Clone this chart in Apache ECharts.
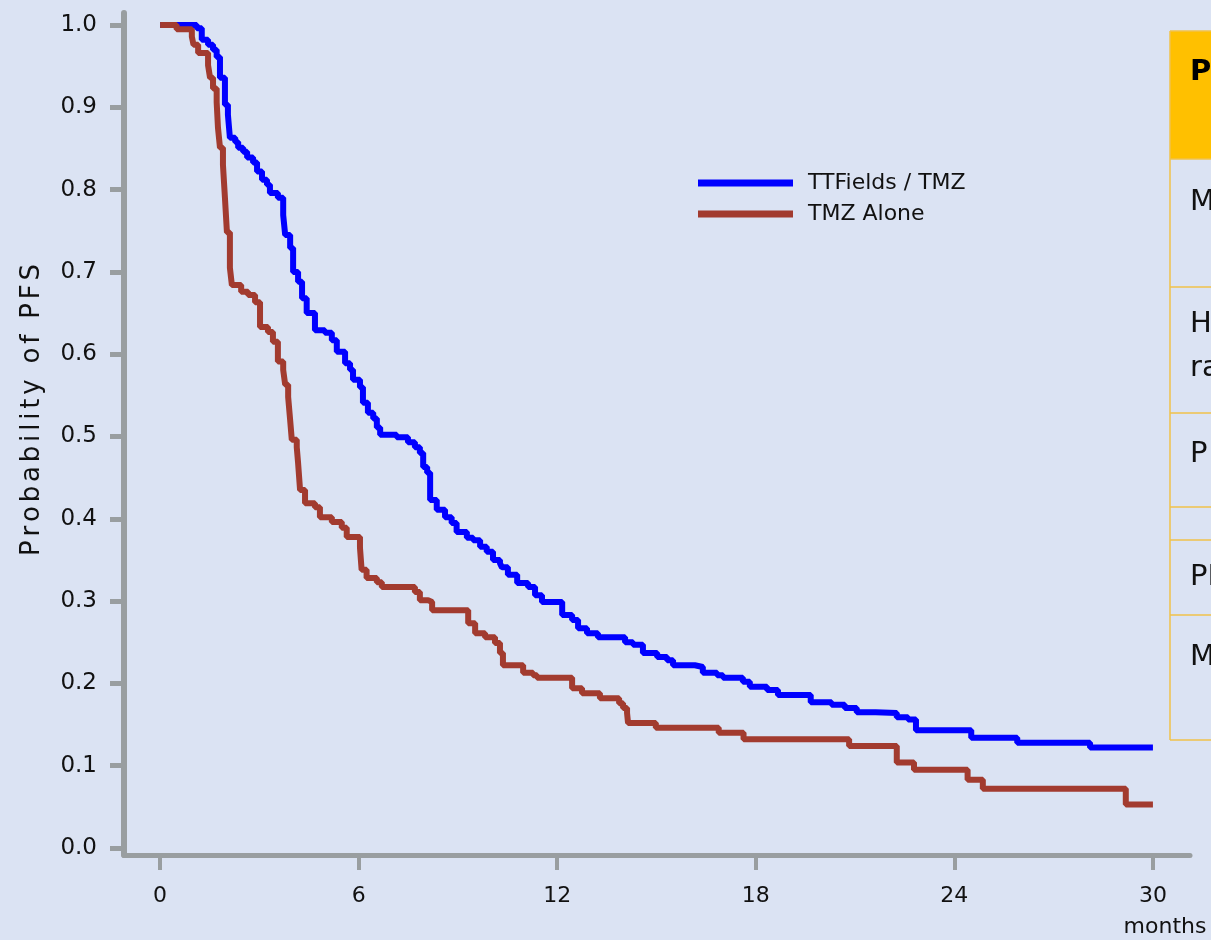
<!DOCTYPE html>
<html>
<head>
<meta charset="utf-8">
<script src="https://cdn.jsdelivr.net/npm/echarts@6/dist/echarts.min.js"></script>
<style>
html, body { margin: 0; padding: 0; background: #dbe3f3; }
#main { width: 1211px; height: 940px; }
</style>
</head>
<body>
<div id="main"></div>
<script>
// Kaplan-Meier PFS: [month, probability] after each drop
const seriesNames = ['TTFields / TMZ', 'TMZ Alone'];
const xTicks = [0, 6, 12, 18, 24, 30];
const yTicks = [0, 0.1, 0.2, 0.3, 0.4, 0.5, 0.6, 0.7, 0.8, 0.9, 1.0];

const ttfSteps = [
  [0, 1.0], [1.11, 0.996], [1.26, 0.982], [1.45, 0.976], [1.60, 0.970], [1.71, 0.961],
  [1.81, 0.936], [1.96, 0.903], [2.05, 0.891], [2.11, 0.863], [2.27, 0.858], [2.36, 0.851],
  [2.51, 0.846], [2.63, 0.839], [2.81, 0.833], [2.93, 0.822], [3.08, 0.812], [3.23, 0.806],
  [3.32, 0.796], [3.56, 0.790], [3.72, 0.769], [3.78, 0.745], [3.93, 0.729], [4.02, 0.700],
  [4.17, 0.688], [4.29, 0.668], [4.43, 0.650], [4.68, 0.629], [4.98, 0.626], [5.19, 0.617],
  [5.34, 0.603], [5.59, 0.589], [5.74, 0.581], [5.83, 0.569], [6.04, 0.560], [6.13, 0.541],
  [6.28, 0.529], [6.44, 0.522], [6.55, 0.511], [6.65, 0.502], [7.15, 0.499], [7.49, 0.493],
  [7.70, 0.487], [7.85, 0.480], [7.95, 0.463], [8.07, 0.456], [8.16, 0.423], [8.36, 0.411],
  [8.61, 0.402], [8.81, 0.395], [8.96, 0.384], [9.27, 0.377], [9.46, 0.374], [9.67, 0.366],
  [9.87, 0.360], [10.06, 0.350], [10.27, 0.346], [10.33, 0.341], [10.51, 0.332], [10.79, 0.322],
  [11.12, 0.317], [11.33, 0.307], [11.54, 0.299], [12.15, 0.283], [12.45, 0.277], [12.63, 0.267],
  [12.90, 0.261], [13.23, 0.256], [14.05, 0.250], [14.29, 0.247], [14.59, 0.237], [15.02, 0.232],
  [15.32, 0.228], [15.50, 0.222], [16.16, 0.220], [16.40, 0.213], [16.83, 0.210], [17.01, 0.207],
  [17.61, 0.202], [17.82, 0.196], [18.34, 0.192], [18.67, 0.186], [19.66, 0.177], [20.29, 0.174],
  [20.69, 0.170], [21.05, 0.165], [21.62, 0.164], [22.26, 0.159], [22.60, 0.156], [22.84, 0.143],
  [24.51, 0.134], [25.90, 0.128], [28.10, 0.122], [30.0, 0.122]
];

const tmzSteps = [
  [0, 1.0], [0.50, 0.995], [0.96, 0.986], [1.01, 0.976], [1.15, 0.966], [1.45, 0.951],
  [1.51, 0.936], [1.60, 0.923], [1.71, 0.906], [1.75, 0.875], [1.81, 0.851], [1.90, 0.830],
  [1.96, 0.790], [2.02, 0.748], [2.11, 0.705], [2.17, 0.684], [2.45, 0.676], [2.66, 0.672],
  [2.87, 0.663], [3.02, 0.633], [3.26, 0.627], [3.41, 0.615], [3.56, 0.591], [3.72, 0.581],
  [3.78, 0.563], [3.87, 0.548], [3.93, 0.520], [3.98, 0.496], [4.13, 0.487], [4.17, 0.468],
  [4.23, 0.435], [4.38, 0.419], [4.68, 0.414], [4.83, 0.402], [5.19, 0.396], [5.49, 0.389],
  [5.64, 0.378], [6.04, 0.365], [6.09, 0.338], [6.24, 0.328], [6.55, 0.323], [6.70, 0.317],
  [7.70, 0.311], [7.85, 0.301], [8.10, 0.299], [8.22, 0.289], [9.31, 0.273], [9.52, 0.261],
  [9.82, 0.256], [10.12, 0.249], [10.27, 0.237], [10.36, 0.222], [10.97, 0.213], [11.27, 0.210],
  [11.39, 0.207], [12.45, 0.194], [12.75, 0.188], [13.29, 0.182], [13.87, 0.176], [13.99, 0.170],
  [14.11, 0.164], [14.14, 0.152], [14.98, 0.146], [16.88, 0.140], [17.63, 0.132], [20.82, 0.124],
  [22.26, 0.104], [22.78, 0.095], [24.40, 0.083], [24.86, 0.072], [29.18, 0.053], [30.0, 0.053]
];

// right-hand table, cut off at the picture edge
const tableHeader = 'PFS';
const tableRows = ['Median PFS', 'Hazard\nratio', 'P value', '', 'PFS6', 'Median OS'];

const font = 'DejaVu Sans';
const axisGrey = '#999ea0';

const chart = echarts.init(document.getElementById('main'));

const rowEdges = [31, 159, 287, 413, 507, 540, 615, 740];
const rowTextY = [72, 202, 346, 454, 0, 577, 657];
const tableEls = [
  { type: 'rect', shape: { x: 1170, y: rowEdges[0], width: 60, height: rowEdges[1] - rowEdges[0] },
    style: { fill: '#ffc000' } },
  { type: 'line', shape: { x1: 1170, y1: rowEdges[0], x2: 1170, y2: rowEdges[rowEdges.length - 1] },
    style: { stroke: '#f1c24a', lineWidth: 1.5 } }
];
rowEdges.forEach(function (y) {
  tableEls.push({ type: 'line', shape: { x1: 1170, y1: y, x2: 1240, y2: y },
    style: { stroke: '#f1c24a', lineWidth: 1.5 } });
});
tableEls.push({ type: 'text', x: 1190, y: rowTextY[0],
  style: { text: tableHeader, font: 'bold 29px "DejaVu Sans"', fill: '#000', verticalAlign: 'middle' } });
tableRows.forEach(function (t, i) {
  if (!t) return;
  tableEls.push({ type: 'text', x: 1190, y: rowTextY[i + 1],
    style: { text: t, fontSize: 29, fontFamily: font, lineHeight: 44, fill: '#111', verticalAlign: 'middle' } });
});

const yName = 'Probability of PFS'.split('').map(function (c) { return '{c|' + c + '}'; }).join('');

const option = {
  backgroundColor: '#dbe3f3',
  animation: false,
  grid: { left: 124, right: 21, top: 13, bottom: 85 },
  legend: [
    { data: [seriesNames[0]], left: 698, top: 172, padding: 0, selectedMode: false,
      icon: 'rect', itemWidth: 95, itemHeight: 7,
      textStyle: { fontSize: 22, fontFamily: font, color: '#111', padding: [0, 0, 10, 10] } },
    { data: [seriesNames[1]], left: 698, top: 203, padding: 0, selectedMode: false,
      icon: 'rect', itemWidth: 95, itemHeight: 7,
      textStyle: { fontSize: 22, fontFamily: font, color: '#111', padding: [0, 0, 30, 10] } }
  ],
  xAxis: {
    type: 'value', min: -1.09, max: 31.12,
    splitLine: { show: false },
    axisLine: { onZero: false, lineStyle: { color: axisGrey, width: 5 } },
    axisTick: { customValues: xTicks, length: 15, lineStyle: { color: axisGrey, width: 4 } },
    axisLabel: { customValues: xTicks, margin: 30, fontSize: 22, fontFamily: font, color: '#111' }
  },
  yAxis: {
    type: 'value', min: -0.0085, max: 1.0146,
    splitLine: { show: false },
    axisLine: { show: true, onZero: false, lineStyle: { color: axisGrey, width: 6 } },
    axisTick: { show: true, customValues: yTicks, length: 14, lineStyle: { color: axisGrey, width: 5 } },
    axisLabel: { customValues: yTicks, margin: 27, fontSize: 23, fontFamily: font, color: '#111',
      padding: [0, 0, 12, 0], formatter: function (v) { return v.toFixed(1); } }
  },
  graphic: [
    { type: 'text', x: 32, y: 410, rotation: Math.PI / 2,
      style: { text: yName, align: 'center', verticalAlign: 'middle', fill: '#111',
        rich: { c: { fontSize: 26, fontFamily: font, padding: [0, 1.9, 0, 1.9] } } } },
    { type: 'text', x: 1165, y: 927,
      style: { text: 'months', align: 'center', verticalAlign: 'middle', fill: '#111',
        fontSize: 22, fontFamily: font } }
  ].concat(tableEls),
  series: [
    { name: seriesNames[0], type: 'line', step: 'end', data: ttfSteps, showSymbol: false,
      color: '#0000ff', lineStyle: { width: 6, color: '#0000ff' } },
    { name: seriesNames[1], type: 'line', step: 'end', data: tmzSteps, showSymbol: false,
      color: '#a23b2f', lineStyle: { width: 6, color: '#a23b2f' } }
  ]
};

chart.setOption(option);
</script>
</body>
</html>
